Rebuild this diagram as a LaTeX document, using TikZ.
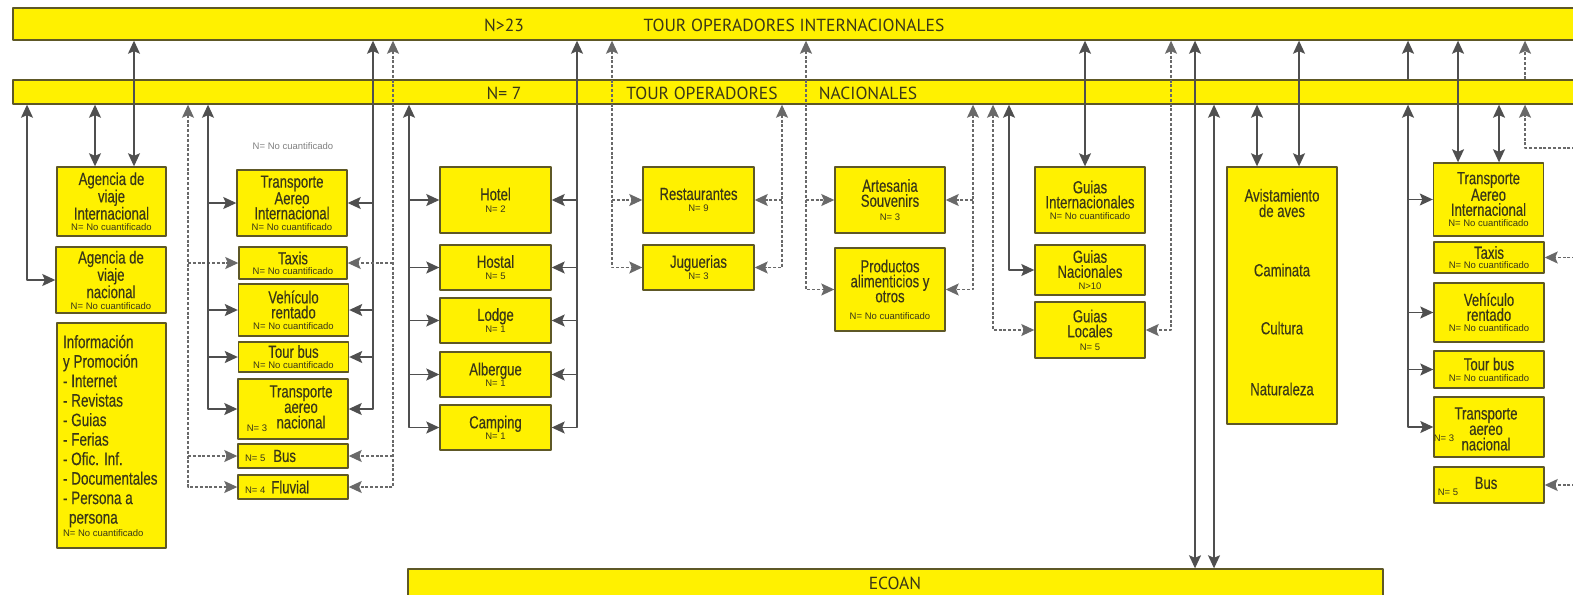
\documentclass[tikz,border=0pt]{standalone}
\usepackage{fontspec}
\setmainfont{Liberation Sans}
\newfontfamily\narrowfont{Liberation Sans}[FakeStretch=0.75,FakeBold=0.3]
\newfontfamily\titlefont{PT Sans}
\usetikzlibrary{arrows.meta}
\definecolor{ylw}{HTML}{FFF100}
\definecolor{edge}{HTML}{5E5826}
\definecolor{ink}{HTML}{3A3718}
\definecolor{wire}{HTML}{4F4F4F}
\newcommand{\nsm}[1]{{\rmfamily\fontsize{9.5}{10}\selectfont #1}}
\tikzset{
  every picture/.style={line join=round},
  twoway/.style={arrows={Stealth[length=13pt,width=12pt,inset=2.5pt]-Stealth[length=13pt,width=12pt,inset=2.5pt]}},
  oneway/.style={arrows={-Stealth[length=13pt,width=12pt,inset=2.5pt]}},
  bar/.style={draw=edge, fill=ylw, line width=1.4pt, inner sep=0pt},
  bartext/.style={text=ink, inner sep=0pt, font=\titlefont\fontsize{17.5}{17.5}\selectfont},
  box/.style={draw=edge, fill=ylw, line width=1.4pt, inner sep=0pt, align=center, text=ink,
    minimum width=110pt, font=\narrowfont\fontsize{17.5}{15}\selectfont},
  boxtext/.style={inner sep=0pt, align=center, text=ink, font=\narrowfont\fontsize{17.5}{15.5}\selectfont},
  ntext/.style={inner sep=0pt, text=ink, font=\rmfamily\fontsize{9.5}{10}\selectfont},
  link/.style={draw=wire, line width=1.3pt},
  dotline/.style={link, draw=wire!85, dash pattern=on 3pt off 1.8pt},
}

\begin{document}
\begin{tikzpicture}[x=1pt,y=-1pt]
\useasboundingbox (0,0) rectangle (1573,594);
\fill[white] (0,0) rectangle (1573,594);
\clip (0,0) rectangle (1573,594);

% barras
\node[bar,minimum width=1570pt,minimum height=32pt] (tint) at (798,24) {};
\node[bartext] (tintn) at (504,25) {N>23};
\node[bartext] (tintt) at (794,25) {TOUR OPERADORES INTERNACIONALES};
\node[bar,minimum width=1570pt,minimum height=24pt] (tnac) at (798,92) {};
\node[bartext] (tnacn) at (504,93) {N= 7};
\node[bartext] (tnact) at (702,93) {TOUR OPERADORES};
\node[bartext] (tnacs) at (868,93) {NACIONALES};
\node[bar,minimum width=975pt,minimum height=34pt] (ecoan) at (895.5,586) {};
\node[bartext] (ecoant) at (895,583) {ECOAN};

% agencias e informacion
\node[box,minimum width=109pt,minimum height=69pt] (agint) at (111.5,201.5) {Agencia de\\viaje\\Internacional\\[-4pt]\nsm{N= No cuantificado}};
\node[box,minimum height=66pt] (agnac) at (111,280) {Agencia de\\viaje\\nacional\\[-4pt]\nsm{N= No cuantificado}};
\node[box,minimum width=109pt,minimum height=225pt,text width=97pt,inner xsep=6pt,align=flush left,
  font=\narrowfont\fontsize{18}{19.5}\selectfont] (info) at (111.5,435.5)
  {Información\\y Promoción\\- Internet\\- Revistas\\- Guias\\- Ferias\\- Ofic. Inf.\\- Documentales\\- Persona a\\\hspace*{6pt}persona\\[-7pt]\nsm{N= No cuantificado}};

% transporte (izquierda)
\node[ntext,text=gray] (nq) at (293,146) {N= No cuantificado};
\node[box,minimum height=66pt] (tai1) at (292,203) {Transporte\\Aereo\\Internacional\\[-4pt]\nsm{N= No cuantificado}};
\node[box,minimum width=108pt,minimum height=32pt] (taxi1) at (293,263) {Taxis\\[-5pt]\nsm{N= No cuantificado}};
\node[box,minimum height=52pt] (veh1) at (293.5,310) {Vehículo\\rentado\\[-4pt]\nsm{N= No cuantificado}};
\node[box,minimum height=30pt] (tbus1) at (293.5,357) {Tour bus\\[-4pt]\nsm{N= No cuantificado}};
\node[box,minimum height=60pt] (tan1) at (293,409) {};
\node[boxtext] (tan1t) at (301,407) {Transporte\\aereo\\nacional};
\node[ntext] (tan1n) at (257,428) {N= 3};
\node[box,minimum height=24pt,text width=96pt,inner xsep=7pt,align=flush left] (bus1) at (293,456) {\nsm{N= 5}\hspace{8pt}Bus};
\node[box,minimum height=24pt,text width=96pt,inner xsep=7pt,align=flush left] (fluv1) at (293,487) {\nsm{N= 4}\hspace{6pt}Fluvial};

% alojamiento
\node[box,minimum width=111pt,minimum height=66pt] (hotel) at (495.5,200) {Hotel\\[-3pt]\nsm{N= 2}};
\node[box,minimum width=111pt,minimum height=45pt] (hostal) at (495.5,267.5) {Hostal\\[-3pt]\nsm{N= 5}};
\node[box,minimum width=111pt,minimum height=45pt] (lodge) at (495.5,320.5) {Lodge\\[-3pt]\nsm{N= 1}};
\node[box,minimum width=111pt,minimum height=45pt] (albergue) at (495.5,374.5) {Albergue\\[-4pt]\nsm{N= 1}};
\node[box,minimum width=111pt,minimum height=45pt] (camping) at (495.5,427.5) {Camping\\[-4pt]\nsm{N= 1}};

% alimentos
\node[box,minimum width=111pt,minimum height=66pt] (rest) at (698.5,200) {Restaurantes\\[-3pt]\nsm{N= 9}};
\node[box,minimum width=111pt,minimum height=45pt] (jugu) at (698.5,267.5) {Juguerias\\[-3pt]\nsm{N= 3}};
\node[box,minimum height=66pt] (arte) at (890,200) {Artesania\\Souvenirs\\[-1pt]\nsm{N= 3}};
\node[box,minimum height=83pt] (prod) at (890,289.5) {Productos\\alimenticios y\\otros\\[2pt]\nsm{N= No cuantificado}};

% guias
\node[box,minimum height=66pt] (gint) at (1090,200) {Guias\\Internacionales\\[-4pt]\nsm{N= No cuantificado}};
\node[box,minimum height=50pt] (gnac) at (1090,270) {Guias\\Nacionales\\[-3pt]\nsm{N>10}};
\node[box,minimum height=56pt] (gloc) at (1090,330) {Guias\\Locales\\[-2pt]\nsm{N= 5}};

% actividades
\node[box,minimum height=257pt] (avis) at (1282,295.5) {};
\node[boxtext] (avist) at (1282,203) {Avistamiento\\de aves};
\node[boxtext] (cami) at (1282,270) {Caminata};
\node[boxtext] (cult) at (1282,328) {Cultura};
\node[boxtext] (natu) at (1282,389) {Naturaleza};

% transporte (derecha)
\node[box,minimum height=73pt] (tai2) at (1488.5,199.5) {Transporte\\Aereo\\Internacional\\[-4pt]\nsm{N= No cuantificado}};
\node[box,minimum height=31pt] (taxi2) at (1489,257.5) {Taxis\\[-5pt]\nsm{N= No cuantificado}};
\node[box,minimum height=59pt] (veh2) at (1489,312.5) {Vehículo\\rentado\\[-4pt]\nsm{N= No cuantificado}};
\node[box,minimum height=37pt] (tbus2) at (1489,369.5) {Tour bus\\[-4pt]\nsm{N= No cuantificado}};
\node[box,minimum height=60pt] (tan2) at (1489,427) {};
\node[boxtext] (tan2t) at (1486,429) {Transporte\\aereo\\nacional};
\node[ntext] (tan2n) at (1444,438) {N= 3};
\node[box,minimum height=36pt] (bus2) at (1489,485) {};
\node[boxtext] (bus2t) at (1486,483) {Bus};
\node[ntext] (bus2n) at (1448,492) {N= 5};

% posiciones de las lineas
\coordinate (k1) at (27,0);   \coordinate (k2) at (95,0);   \coordinate (k3) at (134,0);
\coordinate (k4) at (188,0);  \coordinate (k5) at (208,0);  \coordinate (k6) at (373,0);
\coordinate (k7) at (393,0);  \coordinate (k8) at (409,0);  \coordinate (k9) at (577,0);
\coordinate (k10) at (612,0); \coordinate (k11) at (782,0); \coordinate (k12) at (806,0);
\coordinate (k13) at (973,0); \coordinate (k14) at (993,0); \coordinate (k15) at (1009,0);
\coordinate (k16) at (1085,0); \coordinate (k17) at (1171,0); \coordinate (k18) at (1195,0);
\coordinate (k19) at (1214,0); \coordinate (k20) at (1257,0); \coordinate (k21) at (1299,0);
\coordinate (k22) at (1408,0); \coordinate (k23) at (1458,0); \coordinate (k24) at (1499,0);
\coordinate (k25) at (1525,0); \coordinate (rim) at (1580,0);
\coordinate (e1) at (1580,148);

% agencias
\draw[link,twoway] (tnac.south -| k1) |- (agnac.west);
\draw[link,twoway] (tnac.south -| k2) -- (agint.north -| k2);
\draw[link,twoway] (tint.south -| k3) -- (agint.north -| k3);

% transporte izquierda
\draw[dotline,twoway] (tnac.south -| k4) |- (fluv1.west);
\foreach \b in {taxi1,bus1} \draw[dotline,oneway] (\b.west -| k4) -- (\b.west);
\draw[link,twoway] (tnac.south -| k5) |- (tan1.west);
\foreach \b in {tai1,veh1,tbus1} \draw[link,oneway] (\b.west -| k5) -- (\b.west);
\draw[link,twoway] (tint.south -| k6) |- (tan1.east);
\foreach \b in {tai1,veh1,tbus1} \draw[link,oneway] (\b.east -| k6) -- (\b.east);
\draw[dotline,twoway] (tint.south -| k7) |- (fluv1.east);
\foreach \b in {taxi1,bus1} \draw[dotline,oneway] (\b.east -| k7) -- (\b.east);

% alojamiento
\draw[link,twoway] (tnac.south -| k8) |- (camping.west);
\foreach \b in {hotel,hostal,lodge,albergue} \draw[link,oneway] (\b.west -| k8) -- (\b.west);
\draw[link,twoway] (tint.south -| k9) |- (camping.east);
\foreach \b in {hotel,hostal,lodge,albergue} \draw[link,oneway] (\b.east -| k9) -- (\b.east);

% alimentos
\draw[dotline,twoway] (tint.south -| k10) |- (jugu.west);
\draw[dotline,oneway] (rest.west -| k10) -- (rest.west);
\draw[dotline,twoway] (tnac.south -| k11) |- (jugu.east);
\draw[dotline,oneway] (rest.east -| k11) -- (rest.east);
\draw[dotline,twoway] (tint.south -| k12) |- (prod.west);
\draw[dotline,oneway] (arte.west -| k12) -- (arte.west);
\draw[dotline,twoway] (tnac.south -| k13) |- (prod.east);
\draw[dotline,oneway] (arte.east -| k13) -- (arte.east);

% guias
\draw[dotline,twoway] (tnac.south -| k14) |- (gloc.west);
\draw[link,twoway] (tnac.south -| k15) |- (gnac.west);
\draw[link,twoway] (tint.south -| k16) -- (gint.north -| k16);
\draw[dotline,twoway] (tint.south -| k17) |- (gloc.east);

% ecoan y actividades
\draw[link,twoway] (tint.south -| k18) -- (ecoan.north -| k18);
\draw[link,twoway] (tnac.south -| k19) -- (ecoan.north -| k19);
\draw[link,twoway] (tnac.south -| k20) -- (avis.north -| k20);
\draw[link,twoway] (tint.south -| k21) -- (avis.north -| k21);

% transporte derecha
\draw[link,oneway] (tnac.north -| k22) -- (tint.south -| k22);
\draw[link,twoway] (tnac.south -| k22) |- (tan2.west);
\foreach \b in {tai2,veh2,tbus2} \draw[link,oneway] (\b.west -| k22) -- (\b.west);
\draw[link,twoway] (tint.south -| k23) -- (tai2.north -| k23);
\draw[link,twoway] (tnac.south -| k24) -- (tai2.north -| k24);
\draw[dotline,oneway] (tnac.north -| k25) -- (tint.south -| k25);
\draw[dotline,oneway] (e1) -| (tnac.south -| k25);
\foreach \b in {taxi2,bus2} \draw[dotline,oneway] (\b.east -| rim) -- (\b.east);
\end{tikzpicture}
\end{document}
